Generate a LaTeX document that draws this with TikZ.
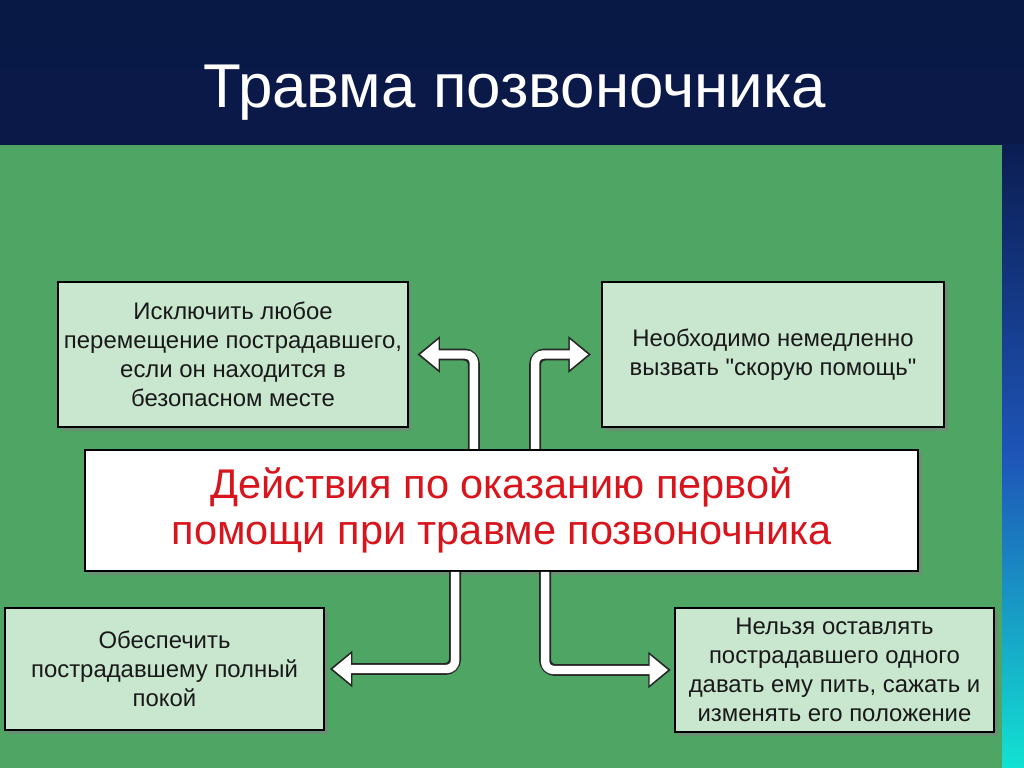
\documentclass[tikz,border=0pt]{standalone}
\usepackage{fontspec}
\setmainfont{Liberation Sans}[Ligatures=TeXOff]
\usetikzlibrary{arrows.meta, positioning, shadows, backgrounds}
\definecolor{slidenavy}{HTML}{0B1D52}
\definecolor{slideblue}{HTML}{1E55B8}
\definecolor{slidecyan}{HTML}{12E2D2}
\definecolor{slidegreen}{HTML}{4FA564}
\definecolor{notegreen}{HTML}{C9E7CF}
\definecolor{mainred}{HTML}{D8141C}
\tikzset{
    note/.style={draw=black, rectangle, line width=1.4pt, fill=notegreen, align=center, inner sep=4pt, text=black!90, font=\fontsize{17}{20.6}\selectfont, drop shadow={shadow xshift=2.5pt, shadow yshift=-2.5pt, opacity=0.55}},
    mainbox/.style={draw=black, rectangle, line width=1.4pt, fill=white, align=center, inner sep=4pt, text=mainred, font=\fontsize{29.5}{32.7}\selectfont, drop shadow={shadow xshift=2.5pt, shadow yshift=-2.5pt, opacity=0.55}},
    arrowback/.style={line width=8.5pt, draw=black!85, rounded corners=7pt, -{Triangle[length=16pt, width=25pt]}},
    arrowfront/.style={line width=6pt, draw=white, rounded corners=6pt, shorten >=2pt, -{Triangle[length=13pt, width=20.5pt]}}
}

\begin{document}
\begin{tikzpicture}[x=0.025cm, y=0.025cm]

        \useasboundingbox (0,0) rectangle (1024,768);

        % Фон слайда
        \begin{scope}[on background layer]
            \shade[top color=slidenavy!85!black, bottom color=slidenavy] (0,0) rectangle (1024,768);
            \shade[top color=slidenavy, bottom color=slidecyan, middle color=slideblue] (1002,0) rectangle (1024,623);
            \fill[slidegreen] (0,0) rectangle (1002,623);
        \end{scope}

        \node (titel) [anchor=base, text=white, font=\fontsize{44}{48}\selectfont] at (515,660) {Травма позвоночника};

        % Блоки
        \node (zentrum) [mainbox, minimum width=20.825cm, minimum height=3.025cm] at (501.5,257.5) {Действия по оказанию первой\\помощи при травме позвоночника};
        \node (obenlinks) [note, minimum width=8.55cm, minimum height=3.625cm] at (233,413.5) {Исключить любое\\перемещение пострадавшего,\\если он находится в\\безопасном месте};
        \node (obenrechts) [note, minimum width=8.55cm, minimum height=3.625cm] at (773,413.5) {Необходимо немедленно\\вызвать "скорую помощь"};
        \node (untenlinks) [note, minimum width=7.975cm, minimum height=3.05cm] at (164.5,99) {Обеспечить\\пострадавшему полный\\покой};
        \node (untenrechts) [note, minimum width=7.975cm, minimum height=3.1cm] at (834.5,98) {Нельзя оставлять\\пострадавшего одного\\давать ему пить, сажать и\\изменять его положение};

        % Стрелки
        \draw [arrowback] ([xshift=-0.69cm]zentrum.north) |- ([xshift=0.22cm]obenlinks.east);
        \draw [arrowfront] ([xshift=-0.69cm]zentrum.north) |- ([xshift=0.22cm]obenlinks.east);
        \draw [arrowback] ([xshift=0.84cm]zentrum.north) |- ([xshift=-0.25cm]obenrechts.west);
        \draw [arrowfront] ([xshift=0.84cm]zentrum.north) |- ([xshift=-0.25cm]obenrechts.west);
        \draw [arrowback] ([xshift=-1.16cm]zentrum.south) |- ([xshift=0.12cm]untenlinks.east);
        \draw [arrowfront] ([xshift=-1.16cm]zentrum.south) |- ([xshift=0.12cm]untenlinks.east);
        \draw [arrowback] ([xshift=1.09cm]zentrum.south) |- ([xshift=-0.08cm]untenrechts.west);
        \draw [arrowfront] ([xshift=1.09cm]zentrum.south) |- ([xshift=-0.08cm]untenrechts.west);

    \end{tikzpicture}
\end{document}
